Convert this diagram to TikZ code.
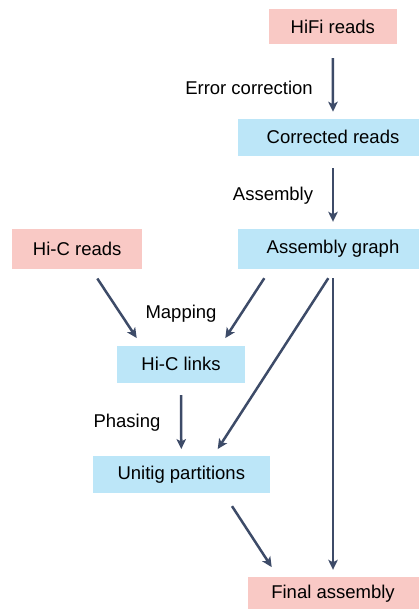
\documentclass[tikz,border=0pt]{standalone}
\usepackage{fontspec}
\setmainfont{Liberation Sans}
\usetikzlibrary{arrows.meta}
\definecolor{readpink}{HTML}{F9C9C5}
\definecolor{stageblue}{HTML}{BCE6F8}
\definecolor{flowink}{HTML}{3D4B68}
\begin{document}
\begin{tikzpicture}[x=1pt,y=-1pt,
  box/.style={inner sep=0pt, font=\fontsize{18.5}{22}\selectfont, text=black},
  rawbox/.style={box, fill=readpink},
  stagebox/.style={box, fill=stageblue},
  steplabel/.style={font=\fontsize{18.5}{22}\selectfont, text=black, inner sep=0pt},
  arr/.style={draw=flowink, line width=2.5pt,
    -{Stealth[length=10pt,width=9.5pt,inset=2.5pt]}}]
\useasboundingbox (0,0) rectangle (419,609);

% input reads and intermediate stages
\node[rawbox, minimum width=127.5pt, minimum height=35pt] (hifi) at (332.8,26.8) {HiFi reads};
\node[stagebox, minimum width=190pt, minimum height=36.7pt] (corr) at (333,137.3) {Corrected reads};
\node[stagebox, minimum width=190pt, minimum height=40pt] (asm) at (333,249) {Assembly graph};
\node[rawbox, minimum width=130.3pt, minimum height=40pt] (hicr) at (77.2,249.3) {Hi-C reads};
\node[stagebox, minimum width=128pt, minimum height=36.7pt] (links) at (181,364.3) {Hi-C links};
\node[stagebox, minimum width=177.3pt, minimum height=36.7pt] (unitig) at (181.3,474.3) {Unitig partitions};
\node[rawbox, minimum width=174pt, minimum height=34pt] (final) at (335,593.7) {\hspace*{-4pt}Final assembly};

% step labels
\node[steplabel] (lerr) at (249,88) {Error correction};
\node[steplabel] (lasm) at (273,196) {Assembly};
\node[steplabel] (lmap) at (181,314) {Mapping};
\node[steplabel] (lpha) at (127,423) {Phasing};

% flow arrows
\draw[arr] ([yshift=-13.7pt]hifi.south) -- ([yshift=7pt]corr.north);
\draw[arr] ([yshift=-12.3pt]corr.south) -- ([yshift=7pt]asm.north);
\draw[arr] ([xshift=20.1pt,yshift=-9pt]hicr.south) -- ([xshift=-44.3pt,yshift=7.7pt]links.north);
\draw[arr] ([xshift=-68.7pt,yshift=-9pt]asm.south) -- ([xshift=44.3pt,yshift=7.7pt]links.north);
\draw[arr] ([xshift=-4.7pt,yshift=-9pt]asm.south) -- ([xshift=36.4pt,yshift=6.7pt]unitig.north);
\draw[arr] ([yshift=-9pt]asm.south) -- ([xshift=-2pt,yshift=6.7pt]final.north);
\draw[arr] ([yshift=-12.3pt]links.south) -- ([yshift=6.7pt]unitig.north);
\draw[arr] ([xshift=50.7pt,yshift=-13.3pt]unitig.south) -- ([xshift=-63.3pt,yshift=9.4pt]final.north);
\end{tikzpicture}
\end{document}
